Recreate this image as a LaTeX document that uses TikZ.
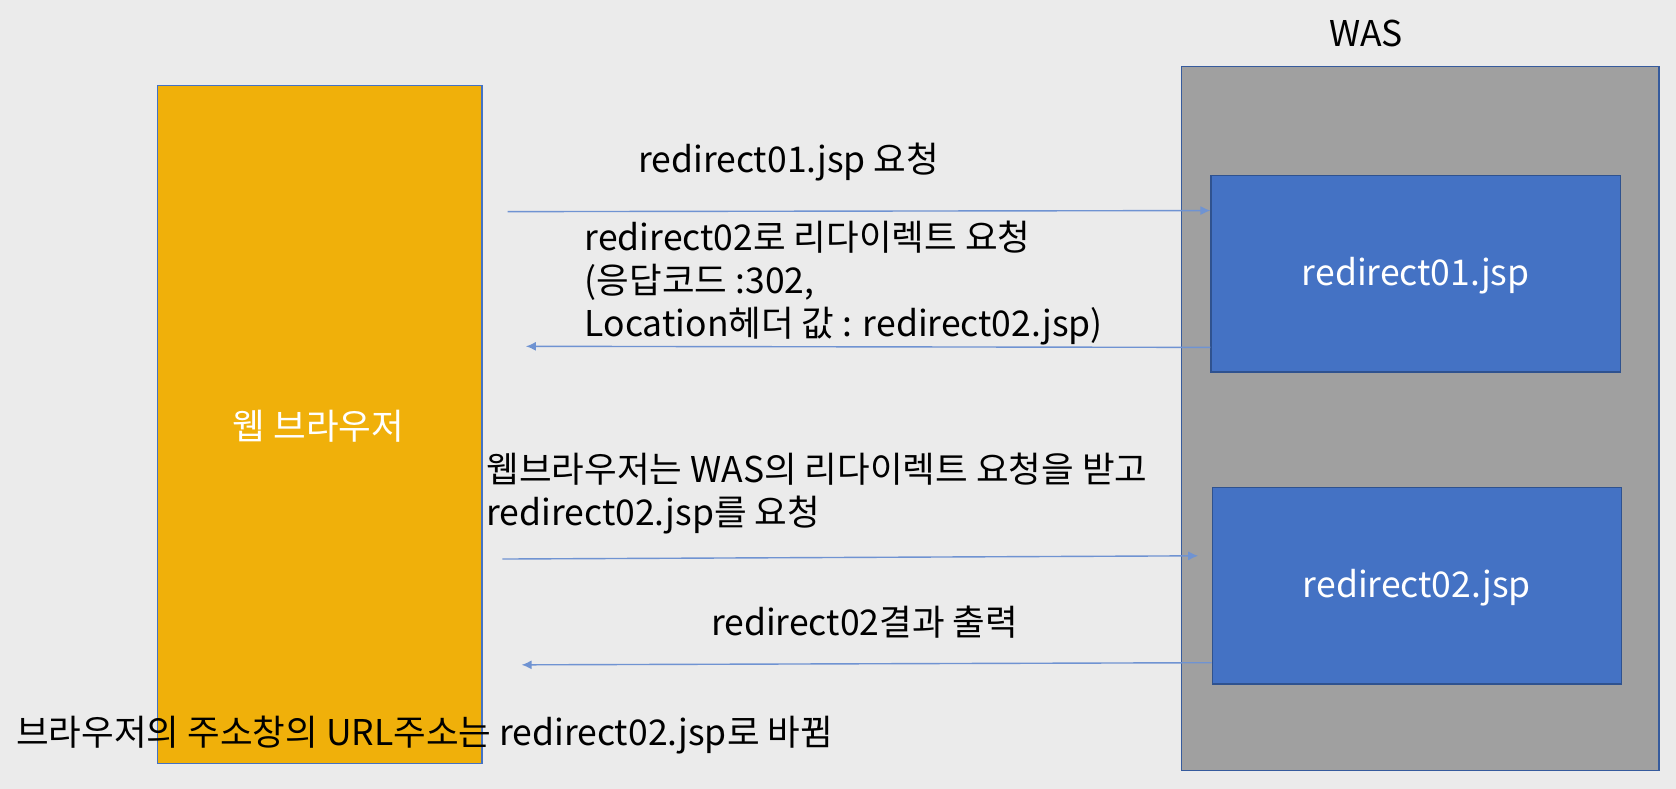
\documentclass[tikz,border=0pt]{standalone}
\usepackage{fontspec}
\setmainfont{Noto Sans CJK KR}
\usetikzlibrary{arrows.meta}
\definecolor{bg}{HTML}{EBEBEB}
\definecolor{wyellow}{HTML}{F0B00A}
\definecolor{wgray}{HTML}{A0A0A0}
\definecolor{jspblue}{HTML}{4472C4}
\definecolor{jspedge}{HTML}{2F528F}
\definecolor{arrowblue}{HTML}{6F93D2}
\tikzset{
  box/.style={draw=jspedge, line width=1.2pt, inner sep=0pt},
  jsp/.style={box, fill=jspblue, minimum width=409.4pt, minimum height=196.7pt},
  lbl/.style={font=\fontsize{35.5}{42.8}\selectfont, text=black, anchor=west, inner sep=0pt, align=left},
  boxlbl/.style={font=\fontsize{35.5}{42.8}\selectfont, text=white, inner sep=0pt},
  msg/.style={draw=arrowblue, line width=1.4pt, -{Latex[length=10pt,width=9pt]}},
}
\begin{document}
\begin{tikzpicture}[x=1.069pt,y=-1.069pt]
\fill[bg] (0,0) rectangle (1568,738);
\useasboundingbox (0,0) rectangle (1568,738);
% browser
\draw[box, fill=wyellow, draw=jspblue] (147,80) rectangle (451,714);
\node[boxlbl] (browser) at (298,399) {웹 브라우저};
% WAS
\draw[box, fill=wgray, draw=jspblue!80!black] (1105,62) rectangle (1552,721);
\node[font=\fontsize{35.5}{42.8}\selectfont, inner sep=0pt] (was) at (1278,31) {WAS};
\node[jsp] (r1) at (1324.5,256) {};
\node[boxlbl] at ([yshift=-2pt]r1.center) {redirect01.jsp};
\node[jsp] (r2) at (1325.5,548) {};
\node[boxlbl] at ([yshift=-2pt]r2.center) {redirect02.jsp};
% coordinates for free ends
\coordinate (a1s) at (475,198);
\coordinate (a2e) at (492,324);
\coordinate (a3s) at (470,523);
\coordinate (a3e) at (1121,520);
\coordinate (a4e) at (488,622);
\draw[msg] (a1s) -- (r1.west |- 0,197);
\draw[msg] (r1.west |- 0,325) -- (a2e);
\draw[msg] (a3s) -- (a3e);
\draw[msg] (r2.west |- 0,620) -- (a4e);
% labels
\node[lbl] (t1) at (597,152) {redirect01.jsp 요청};
\node[lbl] (t2) at (547,265) {redirect02로 리다이렉트 요청\\(응답코드 :302,\\Location헤더 값 : redirect02.jsp)};
\node[lbl] (t3) at (455,462) {웹브라우저는 WAS의 리다이렉트 요청을 받고\\redirect02.jsp를 요청};
\node[lbl] (t4) at (665,582) {redirect02결과 출력};
\node[lbl] (t5) at (15,688) {브라우저의 주소창의 URL주소는 redirect02.jsp로 바뀜};
\end{tikzpicture}
\end{document}
